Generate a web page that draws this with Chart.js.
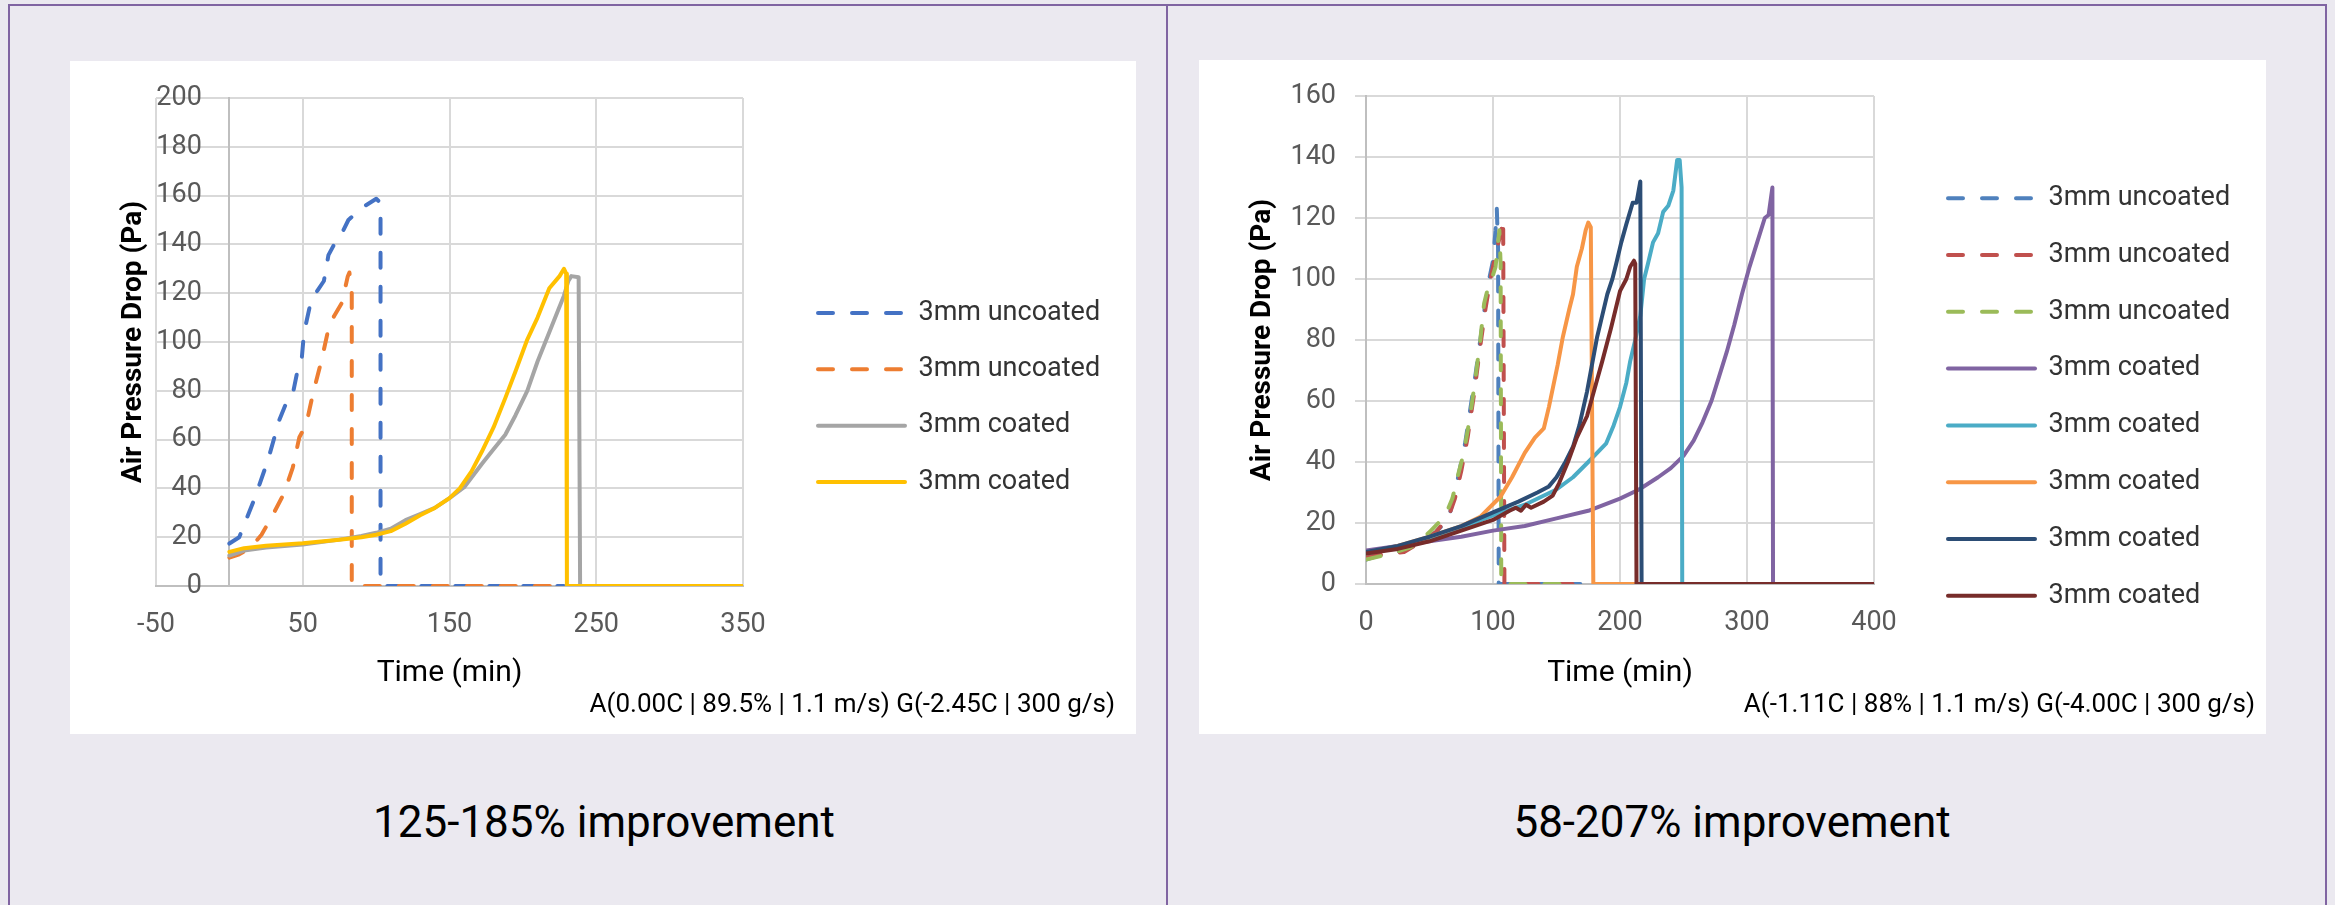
<!DOCTYPE html>
<html>
<head>
<meta charset="utf-8">
<script src="https://cdn.jsdelivr.net/npm/chart.js@4.4.1/dist/chart.umd.min.js"></script>
<style>
  body { margin: 0; width: 2335px; height: 905px; background: #ebe9f0; overflow: hidden; position: relative; font-family: Roboto, sans-serif; }
  .rule { position: absolute; background: #8064a2; }
  .card { position: absolute; background: #fff; }
  .card canvas { display: block; }
  .caption { position: absolute; top: 800px; width: 900px; text-align: center; font-size: 44px; line-height: 44px; color: #000; }
</style>
</head>
<body>
<div class="rule" style="left:8px;top:4px;width:2319px;height:2px"></div>
<div class="rule" style="left:8px;top:4px;width:2px;height:901px"></div>
<div class="rule" style="left:1166px;top:4px;width:2px;height:901px"></div>
<div class="rule" style="left:2325px;top:4px;width:2px;height:901px"></div>

<div class="card" style="left:70px;top:61px;width:1066px;height:673px"><canvas id="leftChart" width="1066" height="673"></canvas></div>
<div class="card" style="left:1199px;top:60px;width:1067px;height:674px"><canvas id="rightChart" width="1067" height="674"></canvas></div>

<div class="caption" style="left:154px">125-185% improvement</div>
<div class="caption" style="left:1282px">58-207% improvement</div>

<script>
// left test: A(0.00C) / G(-2.45C)
var leftNames = ['3mm uncoated', '3mm uncoated', '3mm coated', '3mm coated'];
var leftColors = ['#4472c4', '#ed7d31', '#a5a5a5', '#ffc000'];
var leftDashed = [true, true, false, false];

var leftTime1 = [0, 6.7, 17.3, 26.5, 34, 40.1, 43.2, 46.2, 49.3, 50.8, 55.3, 59.9, 64.4, 67.5, 71.4, 76.6, 81.1, 90.3, 100.1, 103, 103, 228];
var leftDrop1 = [17.4, 20, 36, 52, 68, 77, 78.7, 87.6, 93, 103.6, 116, 121, 125, 135.6, 140, 144.5, 150, 155, 158.7, 157, 0, 0];
var leftTime2 = [0, 6.7, 14.3, 21.9, 29.5, 37.1, 43.2, 47.7, 52.3, 56.9, 63, 67.5, 71.4, 76.6, 80.6, 81.8, 83.4, 83.4, 228];
var leftDrop2 = [11.6, 13, 15.6, 21, 29, 37.8, 48.5, 61, 66, 78.7, 93, 105.4, 110.7, 116, 126.7, 128.5, 120, 0, 0];
var leftTime3 = [0, 10, 25, 50, 75, 90, 100, 110, 120, 130, 140, 150, 160, 172, 180, 188, 195, 203, 210, 218, 224, 228, 231, 233, 238, 239, 350];
var leftDrop3 = [12.5, 14.5, 15.8, 17, 19, 20.5, 21.8, 23.5, 27, 29.5, 32, 36, 40.5, 50, 56, 62, 70, 80, 92, 104, 113, 119, 125, 127, 126.5, 0, 0];
var leftTime4 = [0, 10, 25, 50, 75, 90, 100, 110, 120, 130, 140, 150, 157, 165, 172, 180, 188, 195, 203, 210, 218, 225, 228, 229.5, 230, 350];
var leftDrop4 = [14, 15.5, 16.5, 17.5, 19, 20, 21, 22.5, 25.5, 29, 32, 36, 40, 47, 55, 65, 77, 88, 101, 110, 122, 127, 130, 128, 0, 0];

// right test: A(-1.11C) / G(-4.00C)
var rightNames = ['3mm uncoated', '3mm uncoated', '3mm uncoated', '3mm coated', '3mm coated', '3mm coated', '3mm coated', '3mm coated'];
var rightColors = ['#4f81bd', '#c0504d', '#9bbb59', '#8064a2', '#4bacc6', '#f79646', '#2c4d75', '#772c2a'];
var rightDashed = [true, true, true, false, false, false, false, false];

var rightTime1 = [0, 15, 30, 45, 55, 62, 66, 70, 74, 78, 82, 86, 90, 94, 97, 100, 102, 103, 104, 104.5, 170];
var rightDrop1 = [8, 10, 11, 14, 17, 20, 23, 30, 38, 46, 57, 68, 80, 92, 100, 106, 116, 123, 110, 0, 0];
var rightTime2 = [0, 20, 30, 40, 55, 65, 70, 75, 80, 85, 90, 94, 98, 102, 106, 108, 109, 175];
var rightDrop2 = [9, 10, 10.5, 13, 17, 22, 28, 37, 48, 62, 78, 90, 100, 108, 115, 119.5, 0, 0];
var rightTime3 = [0, 20, 35, 50, 57, 63, 68, 72, 77, 82, 86, 90, 93, 96, 99, 102, 105, 106, 106.5, 160];
var rightDrop3 = [8, 10, 12, 17, 20, 23, 28, 35, 43, 55, 67, 80, 92, 97, 100, 104, 116, 105, 0, 0];
var rightTime4 = [0, 25, 50, 75, 100, 125, 150, 175, 200, 215, 230, 240, 250, 258, 265, 272, 278, 284, 290, 296, 302, 308, 314, 317, 320, 320.5, 400];
var rightDrop4 = [11, 12.5, 14, 15.5, 17.5, 19, 21.5, 24, 28, 31, 35, 38, 42, 47, 53, 60, 68, 76, 85, 95, 104, 112, 120, 121, 130, 0, 0];
var rightTime5 = [0, 25, 50, 75, 100, 125, 150, 163, 175, 189, 195, 200, 205, 208, 212, 216, 219, 222, 226, 230, 234, 238, 242, 245, 247, 248.5, 249, 400];
var rightDrop5 = [10, 12, 15, 18.5, 22.5, 26, 31, 35, 40, 46, 52, 58, 66, 73, 80, 88, 100, 105, 112, 115, 122, 124, 129, 139, 139, 130, 0, 0];
var rightTime6 = [0, 25, 50, 75, 90, 106, 115, 125, 133, 140, 144, 151, 155, 160, 163, 166, 170, 173, 175, 177, 179, 400];
var rightDrop6 = [10, 12.5, 15.5, 19, 22, 28.7, 35, 43, 48, 51, 58, 72, 81, 90, 95, 104, 110, 116, 118.5, 117, 0, 0];
var rightTime7 = [0, 25, 50, 75, 100, 120, 135, 144, 150, 157, 163, 168, 174, 178, 182, 186, 190, 194, 197, 201, 205, 210, 213, 216, 217, 400];
var rightDrop7 = [10.5, 12.5, 15.5, 19, 23.5, 27, 30, 32, 35, 40, 45, 52, 63, 72, 81, 88, 95, 100, 105, 112, 118, 125, 125, 132, 0, 0];
var rightTime8 = [0, 25, 50, 75, 100, 113, 118, 122, 126, 130, 140, 147, 152, 159, 166, 174, 180, 186, 193, 200, 205, 208, 211, 212, 213, 400];
var rightDrop8 = [10, 11.5, 14, 17.5, 21, 24, 25, 24, 26, 25, 27, 29, 33, 40, 48, 55, 64, 73, 84, 96, 100, 104, 106, 105, 0, 0];

Chart.defaults.font.family = 'Roboto';
Chart.defaults.color = '#595959';

function series(i, names, colors, dashed, time, drop) {
    return {
        label: names[i],
        data: time.map(function (t, k) { return { x: t, y: drop[k] }; }),
        borderColor: colors[i],
        backgroundColor: colors[i],
        borderWidth: 4,
        borderDash: dashed[i] ? [15, 19] : [],
        borderCapStyle: 'round',
        borderJoinStyle: 'round',
        pointRadius: 0,
        tension: 0,
        order: -i   // later runs sit on top, as in the workbook
    };
}

// empty axis used only to reserve horizontal room
function spacer(width, weight) {
    return {
        type: 'linear',
        position: 'right',
        weight: weight,
        grid: { display: false },
        border: { display: false },
        ticks: { display: false },
        afterFit: function (s) { s.width = width; }
    };
}

// sits right of the legend and takes whatever the legend leaves of `room`
function legendTail(room) {
    var s = spacer(0, 2000);
    s.afterFit = function (scale) { scale.width = Math.max(0, room - scale.chart.legend.width); };
    return s;
}

// legend samples drawn with the dataset's own dash and width
function legendItems(chart) {
    var items = Chart.defaults.plugins.legend.labels.generateLabels(chart);
    items.forEach(function (it) {
        var ds = chart.data.datasets[it.datasetIndex];
        it.lineDash = ds.borderDash;
        it.lineWidth = ds.borderWidth;
        it.strokeStyle = ds.borderColor;
        it.lineCap = 'round';
        it.pointStyle = 'line';
    });
    return items;
}

var gridColor = '#d9d9d9';
var axisColor = '#bfbfbf';

function baseOptions(o) {
    return {
        responsive: false,
        animation: false,
        devicePixelRatio: 1,
        layout: { padding: { left: 0, right: o.padRight, top: 0, bottom: 0 } },
        plugins: {
            tooltip: { enabled: false },
            title: { display: true, text: '', font: { size: 10, lineHeight: 1 }, padding: { top: o.top - 10, bottom: 0 } },
            subtitle: {
                display: true, text: o.note, position: 'bottom', align: 'end', color: '#000',
                font: { size: 26, lineHeight: 1.2 }, padding: { top: 0, bottom: 13 }
            },
            legend: {
                position: 'right',
                maxWidth: 420,
                labels: {
                    usePointStyle: true, pointStyle: 'line', pointStyleWidth: 87,
                    font: { size: 27 }, color: '#333', padding: o.legendGap,
                    generateLabels: legendItems,
                    sort: function (a, b) { return a.datasetIndex - b.datasetIndex; }
                }
            }
        },
        scales: {}
    };
}

function xAxis(min, max, height) {
    return {
        type: 'linear', position: 'bottom', min: min, max: max,
        ticks: { stepSize: 100, padding: 23, font: { size: 27 }, color: '#595959' },
        grid: { color: gridColor, lineWidth: 2, drawTicks: false },
        border: { color: axisColor, width: 2 },
        title: { display: true, text: 'Time (min)', color: '#000', font: { size: 30, lineHeight: 1.1 }, padding: 0 },
        afterFit: function (s) { s.height = height; }
    };
}

var yTitleStyle = { display: true, text: 'Air Pressure Drop (Pa)', color: '#000', font: { size: 28, weight: 'bold' }, padding: { top: 47, bottom: 0 } };

// ---------- left chart ----------
var leftSets = [
    series(0, leftNames, leftColors, leftDashed, leftTime1, leftDrop1),
    series(1, leftNames, leftColors, leftDashed, leftTime2, leftDrop2),
    series(2, leftNames, leftColors, leftDashed, leftTime3, leftDrop3),
    series(3, leftNames, leftColors, leftDashed, leftTime4, leftDrop4)
];
var leftOpts = baseOptions({ padRight: 21, top: 37, legendGap: 29.3, note: 'A(0.00C | 89.5% | 1.1 m/s) G(-2.45C | 300 g/s)' });
leftOpts.scales = {
    x: xAxis(-50, 350, 103.8),
    y: {
        // value axis crosses the time axis at 0, labels sit in the -50..0 strip
        type: 'linear', position: { x: 0 }, min: 0, max: 200,
        ticks: {
            stepSize: 20, font: { size: 27 }, color: '#595959',
            callback: function (v) { return v + '\u2003'; }
        },
        grid: { color: gridColor, lineWidth: 2, drawTicks: false },
        border: { color: axisColor, width: 2 }
    },
    yTitle: {
        type: 'linear', position: 'left',
        grid: { display: false }, border: { display: false }, ticks: { display: false },
        title: yTitleStyle,
        afterFit: function (s) { s.width = 86; }
    },
    gap: spacer(45.7, 0),
    edge: legendTail(326.3)
};
new Chart(document.getElementById('leftChart'), {
    type: 'line',
    data: { datasets: leftSets },
    options: leftOpts
});

// ---------- right chart ----------
var rightSets = [
    series(0, rightNames, rightColors, rightDashed, rightTime1, rightDrop1),
    series(1, rightNames, rightColors, rightDashed, rightTime2, rightDrop2),
    series(2, rightNames, rightColors, rightDashed, rightTime3, rightDrop3),
    series(3, rightNames, rightColors, rightDashed, rightTime4, rightDrop4),
    series(4, rightNames, rightColors, rightDashed, rightTime5, rightDrop5),
    series(5, rightNames, rightColors, rightDashed, rightTime6, rightDrop6),
    series(6, rightNames, rightColors, rightDashed, rightTime7, rightDrop7),
    series(7, rightNames, rightColors, rightDashed, rightTime8, rightDrop8)
];
var rightOpts = baseOptions({ padRight: 11, top: 36, legendGap: 29.8, note: 'A(-1.11C | 88% | 1.1 m/s) G(-4.00C | 300 g/s)' });
rightOpts.scales = {
    x: xAxis(0, 400, 105.8),
    y: {
        type: 'linear', position: 'left', min: 0, max: 160,
        ticks: { stepSize: 20, padding: 19, font: { size: 27 }, color: '#595959' },
        grid: { color: gridColor, lineWidth: 2, tickLength: 11 },
        border: { color: axisColor, width: 2 },
        title: yTitleStyle,
        afterFit: function (s) { s.width = 167; }
    },
    gap: spacer(44.2, 0),
    edge: legendTail(336.8)
};
new Chart(document.getElementById('rightChart'), {
    type: 'line',
    data: { datasets: rightSets },
    options: rightOpts
});
</script>
</body>
</html>
